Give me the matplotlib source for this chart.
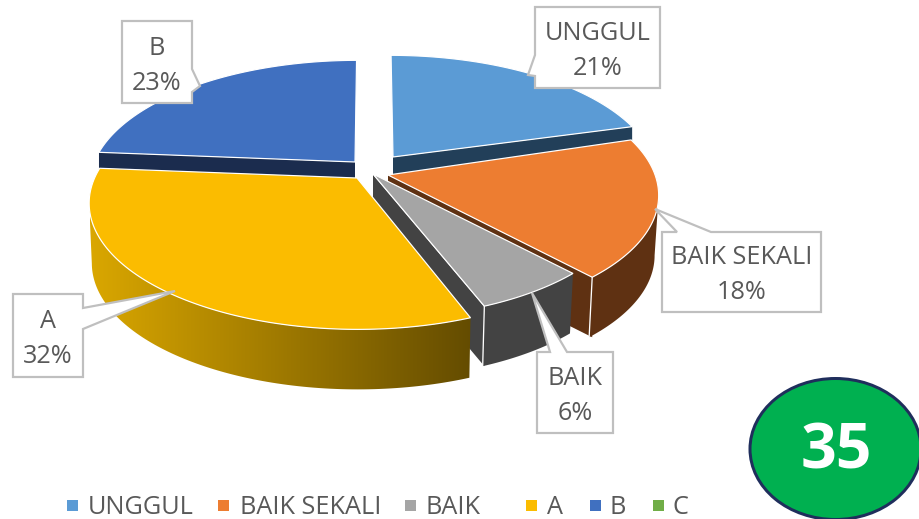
import numpy as np
import matplotlib
matplotlib.use("Agg")
import matplotlib.pyplot as plt
from matplotlib.patches import Polygon, Ellipse, Rectangle
from matplotlib.colors import LinearSegmentedColormap

categories = ["UNGGUL", "BAIK SEKALI", "BAIK", "A", "B", "C"]
values = [21, 18, 6, 32, 23, 0]
badge_text = "35"

top_colors = ["#5B9BD5", "#ED7D31", "#A5A5A5", "#FBBC00", "#4070C0", "#70AD47"]
wall_colors = ["#223F59", "#5F3112", "#434343", "#6B5000", "#1B2C4E", "#3A5A25"]
apex = {0: (393, 157), 1: (388, 175), 2: (373, 174), 3: (357, 178), 4: (355, 162)}
rot_start = {0: -.5, 1: -3, 2: -3.2, 3: -2.5, 4: -2.5}
rot_end = {0: -1, 1: -3, 2: -3.2, 3: -2.5, 4: .4}
rad_start = {0: 1.0, 1: 1.02, 2: .955, 3: .995, 4: .985}
rad_end = {0: .985, 1: .975, 2: .955, 3: .99, 4: 1.0}
taper = {1: .985, 2: .985, 3: .99}
cut_wall = {0: "end", 1: "end", 2: "end", 4: "start"}
has_rim = {1, 2, 3}
draw_order = [4, 0, 1, 2, 3]
AX, BY, K, DEPTH = 265, 122, .2, 60
TEXT = "#595959"
FONT = "Open Sans"
FS = 18.2
BORDER = "#BFBFBF"
PX = .72

fig = plt.figure(figsize=(9.19, 5.19), dpi=100)
ax = fig.add_axes([0, 0, 1, 1])

total = sum(values)
starts = np.cumsum([0] + values[:-1]) / total * 360
ends = np.cumsum(values) / total * 360


def project(i, n=120):
    f = np.linspace(0, 1, n)
    th = starts[i] + rot_start[i] + f * (ends[i] + rot_end[i] - starts[i] - rot_start[i])
    r = rad_start[i] + f * (rad_end[i] - rad_start[i])
    t = np.radians(th)
    X, Y = r * np.sin(t), r * np.cos(t)
    d = 1 + K * Y
    return np.column_stack([apex[i][0] + AX * X / d, apex[i][1] - BY * Y / d])


def drop(i, p):
    q = np.array(p, float)
    q[:, 0] = apex[i][0] + (q[:, 0] - apex[i][0]) * taper[i]
    q[:, 1] += DEPTH
    return q


def flat_drop(p):
    q = np.array(p, float)
    q[:, 1] += DEPTH
    return q


gold = LinearSegmentedColormap.from_list("gold", ["#DAA700", "#644C00"])

z = 1
for i in draw_order:
    arc = project(i)
    a = np.array([apex[i]], float)
    if i in cut_wall:
        corner = arc[-1:] if cut_wall[i] == "end" else arc[:1]
        q = np.vstack([a, corner, flat_drop(corner), flat_drop(a)])
        ax.add_patch(Polygon(q, closed=True, fc=wall_colors[i], ec="none", zorder=z))
    z += 1
    if i in has_rim:
        low = drop(i, arc)
        if i == 1:
            sel = slice(int(np.argmax(arc[:, 0])), None)
        elif i == 3:
            sel = slice(0, int(np.argmin(arc[:, 0])) + 1)
        else:
            sel = slice(None)
        rim = np.vstack([arc[sel], low[sel][::-1]])
        if i == 3:
            im = ax.imshow(np.linspace(0, 1, 256)[None, :], cmap=gold, aspect="auto",
                           extent=(90, 472, 420, 150), zorder=z)
            clip = Polygon(rim, closed=True, transform=ax.transData, fc="none", ec="none")
            ax.add_patch(clip)
            im.set_clip_path(clip)
        else:
            ax.add_patch(Polygon(rim, closed=True, fc=wall_colors[i], ec="none", zorder=z))
        if i in (1, 2):
            ax.plot([arc[-1, 0], low[-1, 0]], [arc[-1, 1], low[-1, 1]], color="white", lw=1.3 * PX, zorder=z + 1)
    if i == 2:
        ax.plot([apex[i][0], arc[-1, 0]], [apex[i][1], arc[-1, 1]], color="white", lw=PX, zorder=z + 1)
    z += 2
    top = np.vstack([a, arc])
    ax.add_patch(Polygon(top, closed=True, fc=top_colors[i], ec="white", lw=1.2 * PX, joinstyle="miter", zorder=z))
    z += 1

callouts = [
    (0, [(535, 7), (660, 7), (660, 88), (535, 88), (535, 76), (528, 75), (535, 55)], (598, 51)),
    (1, [(662, 232), (677, 232), (655, 209), (711, 232), (821, 232), (821, 312), (662, 312)], (742, 275)),
    (2, [(537, 352), (550, 352), (532, 293), (567, 352), (613, 352), (613, 433), (537, 433)], (575, 396)),
    (3, [(13, 294), (83, 294), (83, 308), (175, 291), (83, 329), (83, 377), (13, 377)], (48, 339)),
    (4, [(122, 21), (192, 21), (192, 69), (200, 86), (192, 92), (192, 103), (122, 103)], (157, 66)),
]
for i, box, (tx, ty) in callouts:
    ax.add_patch(Polygon(box, closed=True, fc="white", ec=BORDER, lw=2.2 * PX, joinstyle="miter", zorder=200))
    ax.text(tx, ty, f"{categories[i]}\n{values[i]}%", ha="center", va="center", fontsize=FS, family=FONT,
            color=TEXT, linespacing=1.55, zorder=201)

marker_x = [72, 223, 410, 531, 595, 658]
text_x = [88, 240, 426, 547, 610, 673]
for c, mx, tx, col in zip(categories, marker_x, text_x, top_colors):
    ax.add_patch(Rectangle((mx - 5.5, 499.5), 11, 11, fc=col, ec="none", zorder=210))
    ax.text(tx, 507, c, ha="left", va="center", fontsize=FS, family=FONT, color=TEXT, zorder=210)

ax.add_patch(Ellipse((835.5, 449), 171, 141, fc="#00B050", ec="#1F2E5C", lw=3 * PX, zorder=220, clip_on=False))
ax.text(836, 452, badge_text, ha="center", va="center", fontsize=45, fontweight="bold", family=FONT, color="white", zorder=221)

ax.set_xlim(0, 919)
ax.set_ylim(519, 0)
ax.axis("off")
fig.savefig("out.png", dpi=100)
